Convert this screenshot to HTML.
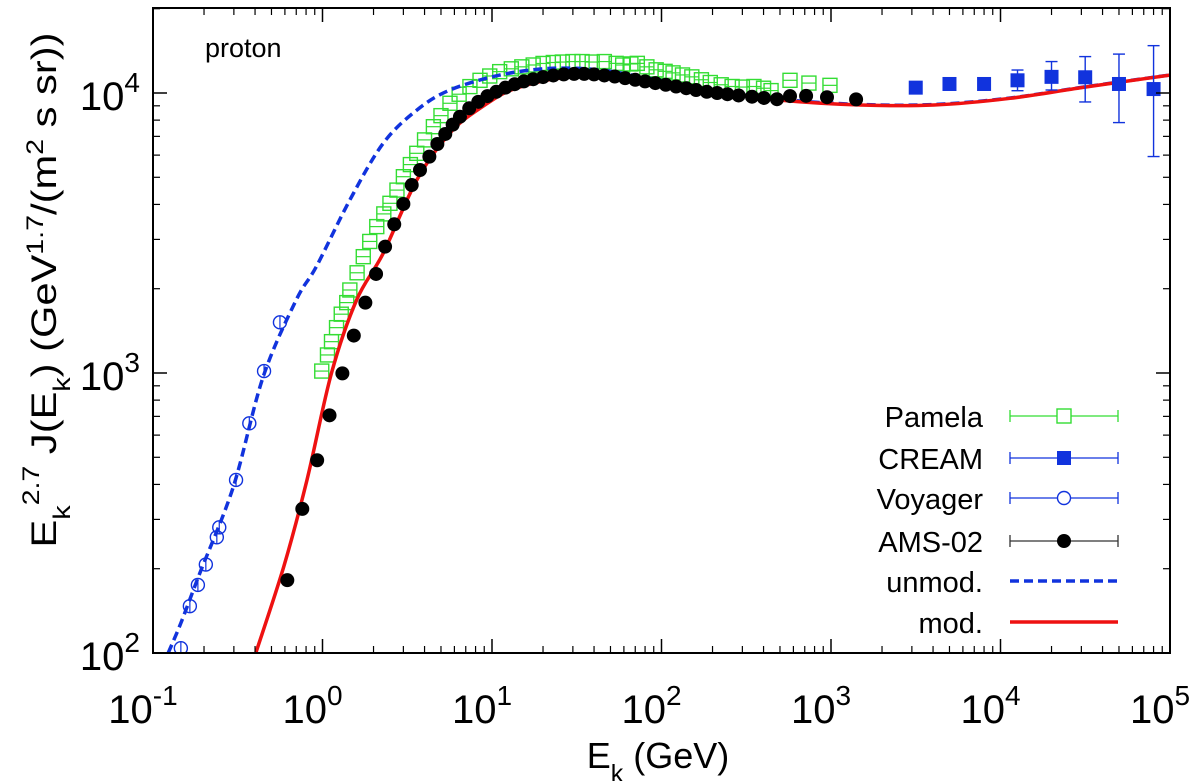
<!DOCTYPE html>
<html><head><meta charset="utf-8"><title>proton spectrum</title>
<style>html,body{margin:0;padding:0;background:#fff;}svg{display:block;font-family:"Liberation Sans",sans-serif;}</style>
</head><body>
<svg id="chart" width="1200" height="781" viewBox="0 0 1200 781" xmlns="http://www.w3.org/2000/svg">
<rect x="0" y="0" width="1200" height="781" fill="#fff"/>
<g id="series"></g>
<g id="axes"></g>
<text x="205" y="57" font-size="27">proton</text>
<text x="658" y="768" font-size="36" text-anchor="middle">E<tspan baseline-shift="sub" font-size="25">k</tspan> (GeV)</text>
<text id="ytitle" transform="translate(56,290) rotate(-90)" font-size="35" text-anchor="middle" textLength="515" lengthAdjust="spacingAndGlyphs">E<tspan baseline-shift="sub" font-size="24">k</tspan><tspan dy="-17" font-size="24">2.7</tspan><tspan dy="17"> J(E</tspan><tspan baseline-shift="sub" font-size="24">k</tspan>) (GeV<tspan baseline-shift="super" font-size="24">1.7</tspan>/(m<tspan baseline-shift="super" font-size="24">2</tspan> s sr))</text>
<g id="legend"></g>
</svg>
<script>
const xTickExps = [-1, 0, 1, 2, 3, 4, 5];
const yTickExps = [2, 3, 4];
const pamelaE = [0.99,1.07,1.13,1.21,1.29,1.39,1.45,1.6,1.74,1.9,2.09,2.3,2.5,2.75,3.0,3.3,3.6,4.0,4.51,5.0,5.65,6.4,7.41,8.5,9.7,11.1,13,15,17.5,20,23,26,30,34,39,46,54,59,66,72,82,93,105,117,133,151,172,194,225,261,300,351,400,443,573,741,986];
const pamelaV = [1016,1160,1294,1452,1622,1784,1979,2280,2603,2950,3333,3700,4037,4500,5024,5550,6090,6800,7580,8300,9190,9900,10540,11100,11500,11920,12200,12400,12590,12750,12850,12900,12950,12950,12900,12950,12760,12590,12700,12760,12400,12100,11950,11800,11600,11420,11150,10900,10700,10550,10500,10550,10400,10200,11100,10850,10650];
const amsE = [0.62,0.76,0.93,1.10,1.31,1.53,1.79,2.07,2.34,2.65,3.0,3.36,3.76,4.27,4.76,5.3,5.86,6.47,7.34,8.3,9.4,10.6,12,13.6,15.4,17.5,20,23,26.5,30.5,35,40,46,53,61,70,80,92,106,122,140,160,185,213,245,285,342,402,480,573,713,947,1406];
const amsV = [182,327,488,706,997,1360,1783,2258,2826,3397,4015,4692,5309,5926,6575,7140,7710,8230,8820,9300,9750,10100,10450,10750,11000,11200,11400,11550,11650,11700,11700,11650,11550,11450,11300,11150,11000,10850,10700,10550,10400,10250,10100,10000,9900,9800,9700,9600,9500,9750,9770,9660,9490];
const voyE = [0.146,0.165,0.184,0.205,0.238,0.246,0.309,0.37,0.452,0.561];
const voyV = [104,147,175,207,259,281,415,661,1016,1517];
const creamE = [3162,5000,8000,12600,20000,31600,50000,80000];
const creamV = [10450,10770,10770,11100,11420,11380,10770,10330];
const creamLo = [10200,10500,10500,10190,10250,9290,7840,5930];
const creamHi = [10700,11050,11050,12080,12950,13490,13770,14760];
const unmodE = [0.123,0.146,0.189,0.298,0.447,0.70,0.92,1.45,2.28,3.6,5.65,11.1,21.9,43.4,85.7,194,490,1490,4040,11400,30700,100000];
const unmodV = [100,128,193,393,970,1823,2400,4150,6610,8690,10250,11590,12240,12080,11270,10250,9500,9100,9100,9600,10500,11600];
const modE = [0.404,0.59,0.81,1.13,1.59,2.28,3.6,5.65,8.8,13.9,30,68,194,490,1490,4040,11400,30700,100000];
const modV = [100,203,415,1000,1823,2677,4890,7200,8940,10400,11430,11000,10130,9440,9060,9060,9570,10470,11590];

const L=153,R=1170,T=8,B=653;
const dx=(R-L)/6, dy=280;
const X=e=>L+dx*(Math.log10(e)+1);
const Y=v=>B-dy*(Math.log10(v)-2);
const NS="http://www.w3.org/2000/svg";
function mk(tag,attrs,parent){const el=document.createElementNS(NS,tag);for(const k in attrs)el.setAttribute(k,attrs[k]);parent.appendChild(el);return el;}
const S=document.getElementById('series'), A=document.getElementById('axes'), G=document.getElementById('legend');

const defs=mk('defs',{},S);const cp=mk('clipPath',{id:'clip'},defs);mk('rect',{x:L,y:T,width:R-L,height:B-T},cp);
const sg=mk('g',{'clip-path':'url(#clip)'},S);

pamelaE.forEach((e,i)=>{const x=X(e),y=Y(pamelaV[i]);
 const g=mk('g',{},sg);
 
 
 mk('rect',{x:x-7,y:y-7,width:14,height:14,fill:'none',stroke:'#33dd33','stroke-width':1.4},g);
 mk('line',{x1:x-7,x2:x+7,y1:y,y2:y,stroke:'#33dd33','stroke-width':1.2},g);
});
function curve(E,V,attrs,name){
 const P=E.map((e,i)=>[X(e),Y(V[i])]);
 let d='M'+P[0][0].toFixed(1)+','+P[0][1].toFixed(1);
 for(let i=0;i<P.length-1;i++){
  const p0=P[Math.max(0,i-1)],p1=P[i],p2=P[i+1],p3=P[Math.min(P.length-1,i+2)];
  const c1=[p1[0]+(p2[0]-p0[0])/6,p1[1]+(p2[1]-p0[1])/6];
  const c2=[p2[0]-(p3[0]-p1[0])/6,p2[1]-(p3[1]-p1[1])/6];
  d+='C'+c1[0].toFixed(1)+','+c1[1].toFixed(1)+' '+c2[0].toFixed(1)+','+c2[1].toFixed(1)+' '+p2[0].toFixed(1)+','+p2[1].toFixed(1);
 }
 const p=mk('path',Object.assign({d:d,fill:'none'},attrs),sg);
 
 }
curve(unmodE,unmodV,{stroke:'#1133dd','stroke-width':3.5,'stroke-dasharray':'9,5'},'unmod-curve');
voyE.forEach((e,i)=>{const x=X(e),y=Y(voyV[i]);
 const g=mk('g',{},sg);
 
 
 mk('circle',{cx:x,cy:y,r:6.5,fill:'none',stroke:'#1133dd','stroke-width':1.4},g);
 mk('line',{x1:x,x2:x,y1:y-6.5,y2:y+6.5,stroke:'#1133dd','stroke-width':1.2},g);
});
curve(modE,modV,{stroke:'#ee1111','stroke-width':3.5},'mod-curve');
amsE.forEach((e,i)=>{const c=mk('circle',{cx:X(e),cy:Y(amsV[i]),r:7,fill:'#000'},sg);
 
 });
creamE.forEach((e,i)=>{const x=X(e),y=Y(creamV[i]);
 const g=mk('g',{},sg);
 
 
 mk('line',{x1:x,x2:x,y1:Y(creamHi[i]),y2:Y(creamLo[i]),stroke:'#1133dd','stroke-width':1.4},g);
 mk('line',{x1:x-6,x2:x+6,y1:Y(creamHi[i]),y2:Y(creamHi[i]),stroke:'#1133dd','stroke-width':1.4},g);
 mk('line',{x1:x-6,x2:x+6,y1:Y(creamLo[i]),y2:Y(creamLo[i]),stroke:'#1133dd','stroke-width':1.4},g);
 mk('rect',{x:x-7,y:y-7,width:14,height:14,fill:'#1133dd'},g);
});

const fr=mk('rect',{x:L,y:T,width:R-L,height:B-T,fill:'none',stroke:'#000','stroke-width':2},A);


xTickExps.forEach((p,i)=>{
 const x=X(Math.pow(10,p));
 mk('line',{x1:x,x2:x,y1:B,y2:B-14,stroke:'#000','stroke-width':1.5},A);
 mk('line',{x1:x,x2:x,y1:T,y2:T+14,stroke:'#000','stroke-width':1.5},A);
 const t=mk('text',{x:x-10,y:723,'font-size':40,'text-anchor':'middle'},A);
 
 
 t.textContent='10';
 const s=mk('tspan',{dy:-18,'font-size':28},t);s.textContent=String(p);
 if(i<xTickExps.length-1){for(let m=2;m<10;m++){const xm=X(m*Math.pow(10,p));
  mk('line',{x1:xm,x2:xm,y1:B,y2:B-7,stroke:'#000','stroke-width':1.2},A);
  mk('line',{x1:xm,x2:xm,y1:T,y2:T+7,stroke:'#000','stroke-width':1.2},A);}}
});
yTickExps.forEach(p=>{
 const y=Y(Math.pow(10,p));
 mk('line',{x1:L,x2:L+14,y1:y,y2:y,stroke:'#000','stroke-width':1.5},A);
 mk('line',{x1:R,x2:R-14,y1:y,y2:y,stroke:'#000','stroke-width':1.5},A);
 const t=mk('text',{x:140,y:y+17,'font-size':40,'text-anchor':'end'},A);
 
 
 t.textContent='10';
 const s=mk('tspan',{dy:-18,'font-size':28},t);s.textContent=String(p);
});
[2,3,4].forEach(p=>{for(let m=2;m<10;m++){const v=m*Math.pow(10,p);const y=Y(v);if(y<T)continue;
 mk('line',{x1:L,x2:L+7,y1:y,y2:y,stroke:'#000','stroke-width':1.2},A);
 mk('line',{x1:R,x2:R-7,y1:y,y2:y,stroke:'#000','stroke-width':1.2},A);}});

const leg=[['Pamela',416,'pam'],['CREAM',458,'cream'],['Voyager',498,'voy'],['AMS-02',541,'ams'],['unmod.',581,'unmod'],['mod.',622,'mod']];
leg.forEach(([lab,y,k])=>{
 const g=mk('g',{},G);
 
 
 const t=mk('text',{x:983,y:y+11,'font-size':29,'text-anchor':'end'},g);t.textContent=lab;
 const x1=1010,x2=1118,xc=1064;
 const colors={pam:'#33dd33',cream:'#1133dd',voy:'#1133dd',ams:'#333'};
 if(colors[k]){const c=colors[k];
  mk('line',{x1:x1,x2:x2,y1:y,y2:y,stroke:c,'stroke-width':1.3},g);
  mk('line',{x1:x1,x2:x1,y1:y-6,y2:y+6,stroke:c,'stroke-width':1.3},g);
  mk('line',{x1:x2,x2:x2,y1:y-6,y2:y+6,stroke:c,'stroke-width':1.3},g);
  if(k==='pam')mk('rect',{x:xc-7,y:y-7,width:14,height:14,fill:'#fff',stroke:c,'stroke-width':1.4},g);
  if(k==='cream')mk('rect',{x:xc-7,y:y-7,width:14,height:14,fill:'#1133dd'},g);
  if(k==='voy')mk('circle',{cx:xc,cy:y,r:6.5,fill:'#fff',stroke:c,'stroke-width':1.4},g);
  if(k==='ams')mk('circle',{cx:xc,cy:y,r:7,fill:'#000'},g);
 } else if(k==='unmod'){mk('line',{x1:x1,x2:x2,y1:y,y2:y,stroke:'#1133dd','stroke-width':3.5,'stroke-dasharray':'9,5'},g);}
 else {mk('line',{x1:x1,x2:x2,y1:y,y2:y,stroke:'#ee1111','stroke-width':3.5},g);}
});
</script>
</body></html>
